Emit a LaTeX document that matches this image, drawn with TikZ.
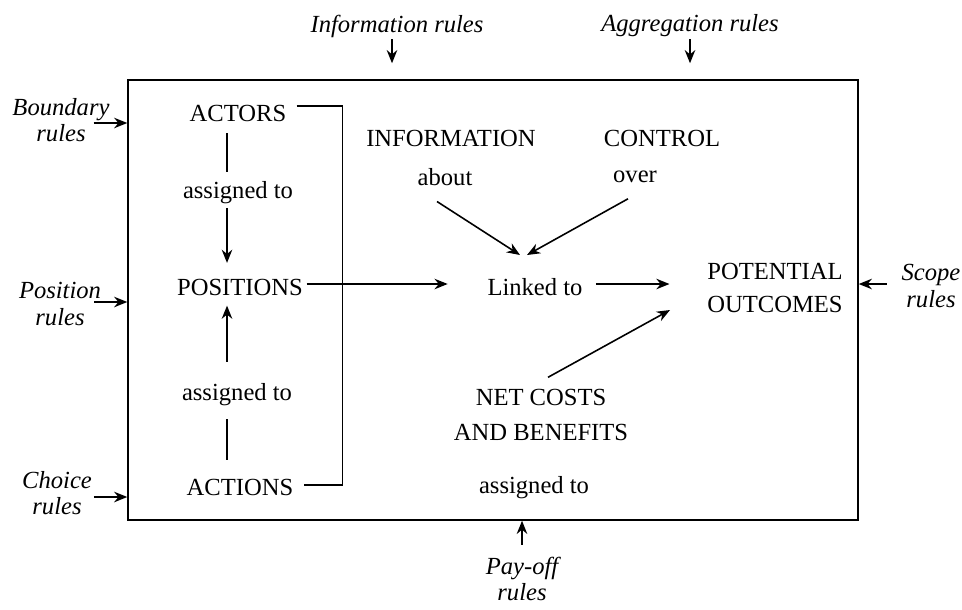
\documentclass[tikz,border=0pt]{standalone}
\usepackage{fontspec}
\setmainfont{Liberation Serif}
\usetikzlibrary{arrows.meta}

\tikzset{
  txt/.style={font=\fontsize{14}{16}\selectfont, inner sep=2pt, align=center},
  rulelbl/.style={font=\fontsize{14}{15}\selectfont\itshape, inner sep=1pt, align=center},
  arr/.style={-{Stealth[length=7.5pt,width=6pt]}, line width=0.9pt},
  ln/.style={line width=0.9pt}
}

\begin{document}
\begin{tikzpicture}[x=0.02cm,y=-0.02cm]
			\useasboundingbox (0,0) rectangle (962,609);

			\node[draw, line width=0.9pt, inner sep=0, minimum width=14.6cm, minimum height=8.8cm] (frame) at (493,300) {};

			\node[txt] (actors) at (238,113) {ACTORS};
			\node[txt] (asgA) at (238,193) {assigned to};
			\node[txt] (positions) at (240,287) {POSITIONS};
			\node[txt] (asgB) at (237,395) {assigned to};
			\node[txt] (actions) at (240,487) {ACTIONS};

			\node[txt] (info) at (451,138) {INFORMATION};
			\node[txt] (about) at (445,177) {about};
			\node[txt] (control) at (662,138) {CONTROL};
			\node[txt] (over) at (635,177) {over};
			\node[txt] (linked) at (535,287) {Linked to};
			\node[txt, font=\fontsize{14}{18.5}\selectfont] (outcomes) at (775,288) {POTENTIAL\\OUTCOMES};
			\node[txt, font=\fontsize{14}{20}\selectfont] (netcost) at (541,415) {NET COSTS\\AND BENEFITS};
			\node[txt] (asgC) at (534,488) {assigned to};

			\node[rulelbl] (inforule) at (397,26) {Information rules};
			\node[rulelbl] (aggrule) at (690,26) {Aggregation rules};
			\node[rulelbl] (bndrule) at (61,120) {Boundary\\rules};
			\node[rulelbl] (posrule) at (60,304) {Position\\rules};
			\node[rulelbl] (chcrule) at (57,493) {Choice\\rules};
			\node[rulelbl] (scprule) at (931,286) {Scope\\rules};
			\node[rulelbl] (payrule) at (522,579) {Pay-off\\rules};

			\coordinate (linkA) at (520,255);
			\coordinate (linkB) at (527,255);
			\coordinate (outC) at (670,310);

			% left column
			\draw[ln, shorten <=0.16cm, shorten >=0.12cm] ([xshift=-0.22cm]actors.south) -- ([xshift=-0.22cm]actors.south |- asgA.north);
			\draw[arr, shorten >=0.24cm] ([xshift=-0.22cm]actors.south |- asgA.south) -- ([xshift=-0.22cm]actors.south |- positions.north);
			\draw[arr, shorten >=0.13cm] ([xshift=-0.22cm,yshift=0.36cm]actors.south |- asgB.north) -- ([xshift=-0.22cm]actors.south |- positions.south);
			\draw[ln, shorten <=0.18cm, shorten >=0.3cm] ([xshift=-0.22cm]actors.south |- asgB.south) -- ([xshift=-0.22cm]actors.south |- actions.north);
			\draw[ln] ([xshift=0.13cm,yshift=0.14cm]actors.east) -- ++(0.92cm,0) |- ([xshift=0.13cm,yshift=0.04cm]actions.east);

			% middle
			\draw[arr, shorten >=0.72cm] ([yshift=0.06cm]positions.east) -- ([yshift=0.06cm]linked.west);
			\draw[arr, shorten <=0.19cm, shorten >=0.68cm] ([yshift=0.06cm]linked.east) -- ([yshift=0.06cm]linked.east -| outcomes.west);
			\draw[arr] ([shift={(-8,12)}]about.south) -- (linkA);
			\draw[arr] ([shift={(-7,12)}]over.south) -- (linkB);
			\draw[arr] ([shift={(7,-8)}]netcost.north) -- (outC);

			% rules
			\draw[arr, shorten >=0.32cm] ([xshift=-0.1cm]inforule.south) -- ([xshift=-0.1cm]inforule.south |- frame.north);
			\draw[arr, shorten >=0.32cm] (aggrule.south) -- (aggrule.south |- frame.north);
			\draw[arr] ([xshift=-0.36cm,yshift=-0.06cm]bndrule.east) -- ([yshift=-0.06cm]bndrule.east -| frame.west);
			\draw[arr] ([xshift=-0.18cm,yshift=0.04cm]posrule.east) -- ([yshift=0.04cm]posrule.east -| frame.west);
			\draw[arr] ([yshift=-0.08cm]chcrule.east) -- ([yshift=-0.08cm]chcrule.east -| frame.west);
			\draw[arr] ([xshift=-0.26cm,yshift=0.04cm]scprule.west) -- ([yshift=0.04cm]scprule.west -| frame.east);
			\draw[arr] ([yshift=0.2cm]payrule.north) -- (payrule.north |- frame.south);
\end{tikzpicture}
\end{document}
